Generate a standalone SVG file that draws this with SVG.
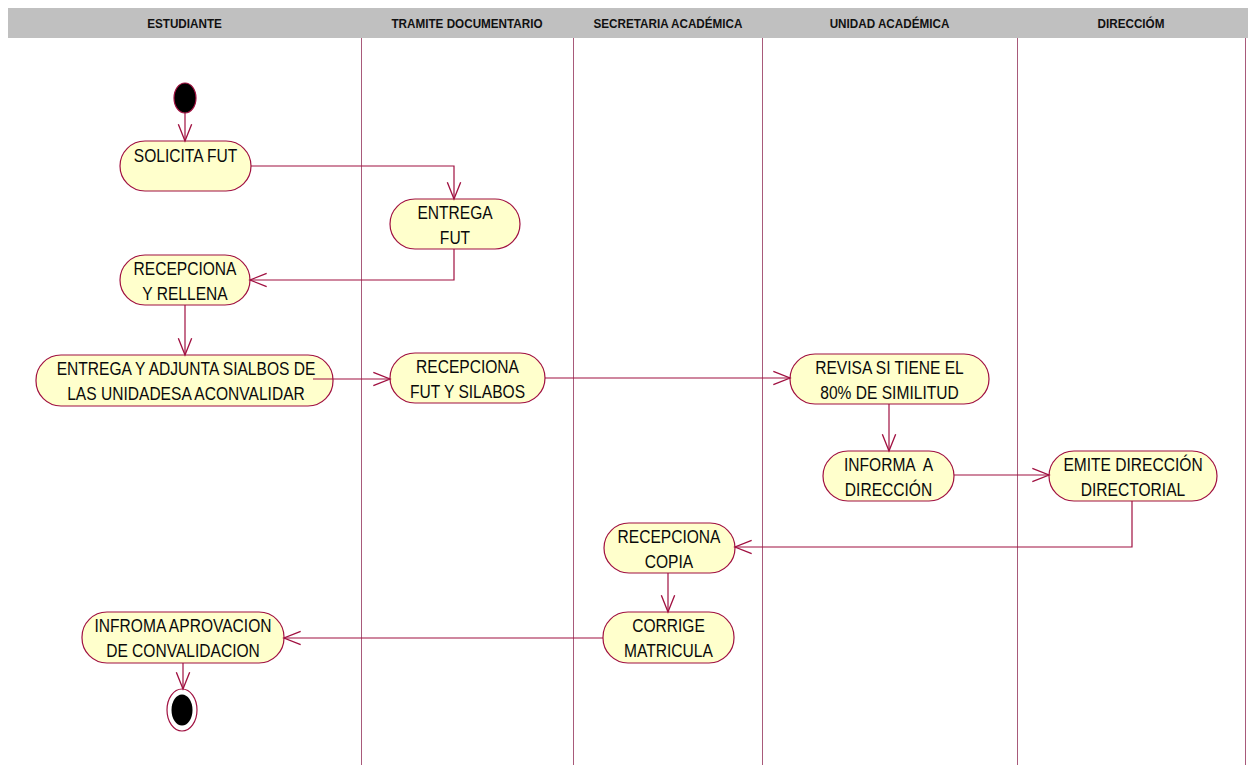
<svg xmlns="http://www.w3.org/2000/svg" width="1248" height="765" viewBox="0 0 1248 765">
<style>
.hdr{font-family:"Liberation Sans",Arial,sans-serif;font-weight:bold;font-size:13px;fill:#111;text-anchor:middle}
.lane{stroke:#a85a7a;stroke-width:1;fill:none}
.node{fill:#ffffcc;stroke:#a01040;stroke-width:1.2}
.t{font-family:"Liberation Sans",Arial,sans-serif;font-size:19px;fill:#0a0a0a;text-anchor:middle}
.c{fill:none;stroke:#a01040;stroke-width:1.2;marker-end:url(#ah)}
</style>
<defs>
<marker id="ah" markerUnits="userSpaceOnUse" markerWidth="20" markerHeight="20" viewBox="-16 -8 18 16" refX="0" refY="0" orient="auto">
<path d="M-15,-6 L0,0 L-15,6" fill="none" stroke="#a01040" stroke-width="1.2"/>
</marker>
</defs>
<rect width="1248" height="765" fill="#ffffff"/>
<g id="header">
<rect x="8" y="8" width="1240" height="30" fill="#c0c0c0"/>
<text class="hdr" transform="matrix(.9 0 0 1 184.5 0)" x="0" y="28">ESTUDIANTE</text>
<text class="hdr" transform="matrix(.9 0 0 1 467 0)" x="0" y="28">TRAMITE DOCUMENTARIO</text>
<text class="hdr" transform="matrix(.9 0 0 1 668 0)" x="0" y="28">SECRETARIA ACADÉMICA</text>
<text class="hdr" transform="matrix(.9 0 0 1 889.5 0)" x="0" y="28">UNIDAD ACADÉMICA</text>
<text class="hdr" transform="matrix(.9 0 0 1 1131 0)" x="0" y="28">DIRECCIÓM</text>
</g>
<g id="lanes">
<line class="lane" x1="361.5" y1="38" x2="361.5" y2="765"/>
<line class="lane" x1="573.5" y1="38" x2="573.5" y2="765"/>
<line class="lane" x1="762.5" y1="38" x2="762.5" y2="765"/>
<line class="lane" x1="1017.5" y1="38" x2="1017.5" y2="765"/>
<line class="lane" x1="1245.5" y1="38" x2="1245.5" y2="765"/>
</g>
<g id="start">
<ellipse cx="185" cy="98" rx="11" ry="15" fill="#000" stroke="#a01040" stroke-width="1.2"/>
</g>
<g id="n_solicita">
<rect class="node" x="120" y="141" width="131" height="50" rx="25" ry="25"/>
<text class="t" transform="matrix(.82 0 0 1 185.5 0)" x="0" y="162">SOLICITA FUT</text>
</g>
<g id="n_entrega_fut">
<rect class="node" x="390" y="199" width="130" height="50" rx="25" ry="25"/>
<text class="t" transform="matrix(.82 0 0 1 455 0)" x="0" y="219">ENTREGA</text>
<text class="t" transform="matrix(.82 0 0 1 455 0)" x="0" y="244">FUT</text>
</g>
<g id="n_recepciona_rellena">
<rect class="node" x="120" y="255" width="130" height="50" rx="25" ry="25"/>
<text class="t" transform="matrix(.82 0 0 1 185 0)" x="0" y="275">RECEPCIONA</text>
<text class="t" transform="matrix(.82 0 0 1 185 0)" x="0" y="300">Y RELLENA</text>
</g>
<g id="n_entrega_adjunta">
<rect class="node" x="36" y="355" width="297" height="51" rx="25" ry="25"/>
<text class="t" transform="matrix(.82 0 0 1 186 0)" x="0" y="375">ENTREGA Y ADJUNTA SIALBOS DE</text>
<text class="t" transform="matrix(.82 0 0 1 186 0)" x="0" y="400">LAS UNIDADESA ACONVALIDAR</text>
</g>
<g id="n_recepciona_fut">
<rect class="node" x="390" y="353" width="155" height="50" rx="25" ry="25"/>
<text class="t" transform="matrix(.82 0 0 1 467.5 0)" x="0" y="373">RECEPCIONA</text>
<text class="t" transform="matrix(.82 0 0 1 467.5 0)" x="0" y="398">FUT Y SILABOS</text>
</g>
<g id="n_revisa">
<rect class="node" x="790" y="354" width="199" height="50" rx="25" ry="25"/>
<text class="t" transform="matrix(.82 0 0 1 889.5 0)" x="0" y="374">REVISA SI TIENE EL</text>
<text class="t" transform="matrix(.82 0 0 1 889.5 0)" x="0" y="399">80% DE SIMILITUD</text>
</g>
<g id="n_informa">
<rect class="node" x="823" y="451" width="131" height="50" rx="25" ry="25"/>
<text class="t" transform="matrix(.82 0 0 1 888.5 0)" x="0" y="471" xml:space="preserve">INFORMA  A</text>
<text class="t" transform="matrix(.82 0 0 1 888.5 0)" x="0" y="496">DIRECCIÓN</text>
</g>
<g id="n_emite">
<rect class="node" x="1049" y="451" width="168" height="50" rx="25" ry="25"/>
<text class="t" transform="matrix(.82 0 0 1 1133 0)" x="0" y="471">EMITE DIRECCIÓN</text>
<text class="t" transform="matrix(.82 0 0 1 1133 0)" x="0" y="496">DIRECTORIAL</text>
</g>
<g id="n_recepciona_copia">
<rect class="node" x="604" y="523" width="131" height="50" rx="25" ry="25"/>
<text class="t" transform="matrix(.82 0 0 1 669 0)" x="0" y="543">RECEPCIONA</text>
<text class="t" transform="matrix(.82 0 0 1 669 0)" x="0" y="568">COPIA</text>
</g>
<g id="n_corrige">
<rect class="node" x="603" y="612" width="131" height="51" rx="25" ry="25"/>
<text class="t" transform="matrix(.82 0 0 1 668.5 0)" x="0" y="632">CORRIGE</text>
<text class="t" transform="matrix(.82 0 0 1 668.5 0)" x="0" y="657">MATRICULA</text>
</g>
<g id="n_informa_aprov">
<rect class="node" x="82" y="612" width="202" height="51" rx="25" ry="25"/>
<text class="t" transform="matrix(.82 0 0 1 183 0)" x="0" y="632">INFROMA APROVACION</text>
<text class="t" transform="matrix(.82 0 0 1 183 0)" x="0" y="657">DE CONVALIDACION</text>
</g>
<g id="end">
<ellipse cx="182" cy="710" rx="15" ry="21" fill="#fff" stroke="#a01040" stroke-width="1.2"/>
<ellipse cx="182" cy="710" rx="10.5" ry="15.5" fill="#000"/>
</g>
<g id="connectors">
<path class="c" d="M185,113 L185,141"/>
<path class="c" d="M251,166 L454,166 L454,199"/>
<path class="c" d="M454,249 L454,280 L250,280"/>
<path class="c" d="M185,305 L185,355"/>
<path class="c" d="M313,379 L390,379"/>
<path class="c" d="M545,378 L790,378"/>
<path class="c" d="M889,404 L889,451"/>
<path class="c" d="M954,475 L1049,475"/>
<path class="c" d="M1132,501 L1132,547 L735,547"/>
<path class="c" d="M668,573 L668,612"/>
<path class="c" d="M603,638 L284,638"/>
<path class="c" d="M183,663 L183,689"/>
</g>
</svg>
